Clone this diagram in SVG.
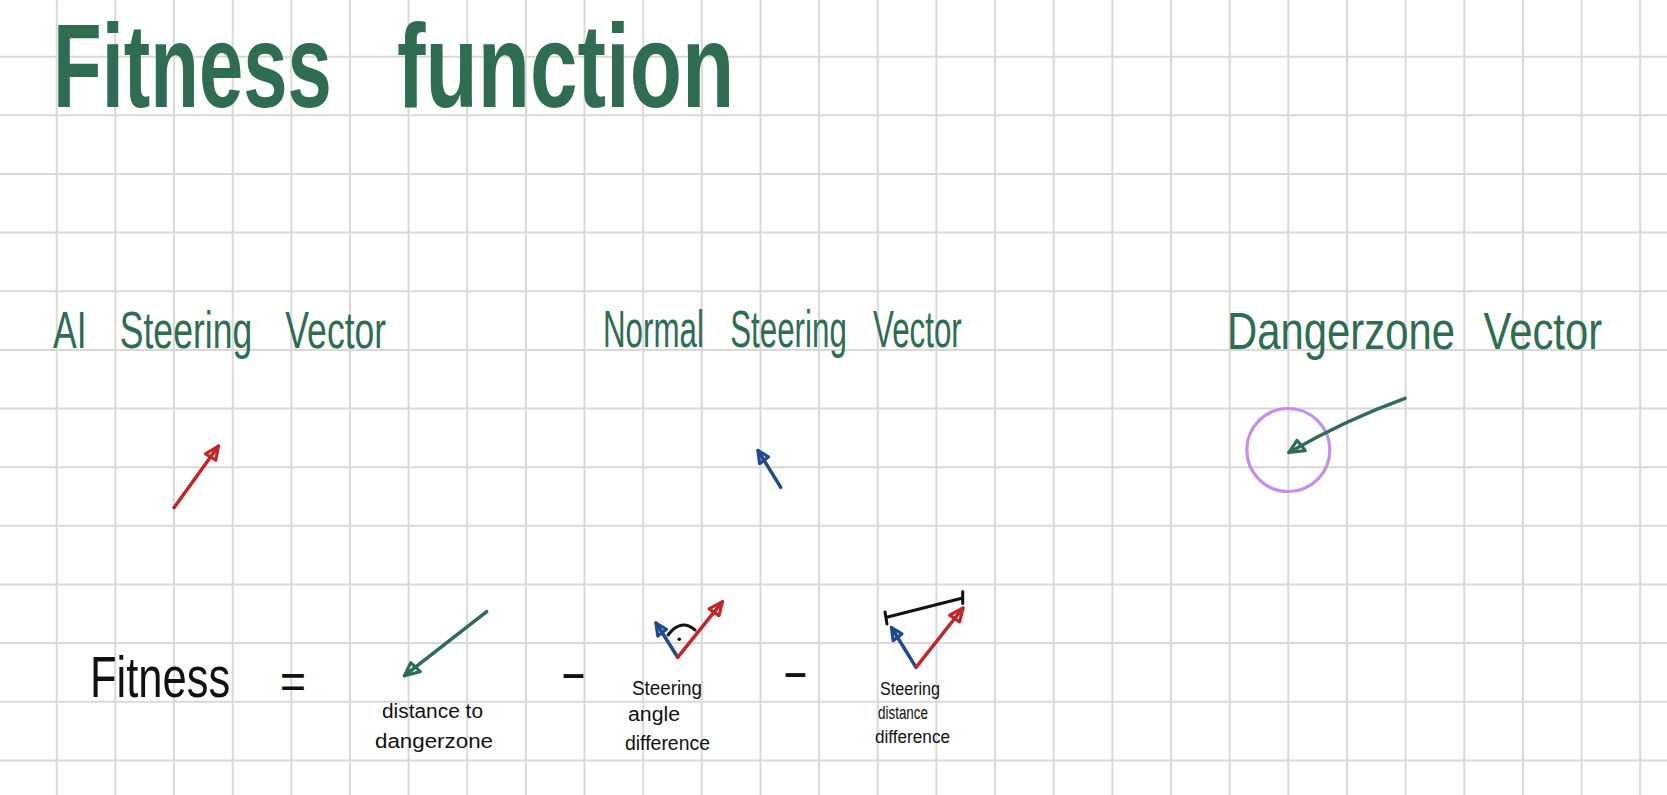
<svg xmlns="http://www.w3.org/2000/svg" width="1667" height="795" viewBox="0 0 1667 795">
<style>
.grid line{stroke:#d9d9d9;stroke-width:2}
.hand{font-family:"Liberation Sans","DejaVu Sans",sans-serif}
.title{font-size:118px;font-weight:bold;fill:#2e6d51}
.lbl{font-size:52px;fill:#2e6d51}
.blk{fill:#111}
.small{font-size:20px}
.vec{fill:none;stroke-width:3.5;stroke-linecap:round;stroke-linejoin:round}
.r{stroke:#c0272b}
.b{stroke:#1f4b8e}
.g{stroke:#2e6d51}
.k{stroke:#111;fill:none;stroke-width:3;stroke-linecap:round}
</style>
<defs>
<marker id="hr" markerUnits="userSpaceOnUse" viewBox="-18 -10 22 20" refX="0" refY="0" markerWidth="22" markerHeight="20" orient="auto">
<path d="M0,0 L-14,-6 L-13,6 Z" fill="none" stroke="#c0272b" stroke-width="3.2" stroke-linejoin="round"/>
</marker>
<marker id="hb" markerUnits="userSpaceOnUse" viewBox="-18 -10 22 20" refX="0" refY="0" markerWidth="22" markerHeight="20" orient="auto">
<path d="M0,0 L-12,-5.5 L-11,5.5 Z" fill="none" stroke="#1f4b8e" stroke-width="3.2" stroke-linejoin="round"/>
</marker>
<marker id="hg" markerUnits="userSpaceOnUse" viewBox="-18 -10 22 20" refX="0" refY="0" markerWidth="22" markerHeight="20" orient="auto">
<path d="M0,0 L-15,-6.5 L-13,6.5 Z" fill="none" stroke="#2e6d51" stroke-width="3.2" stroke-linejoin="round"/>
</marker>
</defs>
<rect width="1667" height="795" fill="#ffffff"/>
<g class="grid">
<line x1="56.7" y1="0" x2="56.7" y2="795"/><line x1="115.3" y1="0" x2="115.3" y2="795"/><line x1="174" y1="0" x2="174" y2="795"/><line x1="232.7" y1="0" x2="232.7" y2="795"/><line x1="291.3" y1="0" x2="291.3" y2="795"/><line x1="350" y1="0" x2="350" y2="795"/><line x1="408.6" y1="0" x2="408.6" y2="795"/><line x1="467.2" y1="0" x2="467.2" y2="795"/><line x1="525.9" y1="0" x2="525.9" y2="795"/><line x1="584.5" y1="0" x2="584.5" y2="795"/><line x1="643.2" y1="0" x2="643.2" y2="795"/><line x1="701.8" y1="0" x2="701.8" y2="795"/><line x1="760.5" y1="0" x2="760.5" y2="795"/><line x1="819.1" y1="0" x2="819.1" y2="795"/><line x1="877.8" y1="0" x2="877.8" y2="795"/><line x1="936.4" y1="0" x2="936.4" y2="795"/><line x1="995.1" y1="0" x2="995.1" y2="795"/><line x1="1053.7" y1="0" x2="1053.7" y2="795"/><line x1="1112.4" y1="0" x2="1112.4" y2="795"/><line x1="1171" y1="0" x2="1171" y2="795"/><line x1="1229.7" y1="0" x2="1229.7" y2="795"/><line x1="1288.3" y1="0" x2="1288.3" y2="795"/><line x1="1347" y1="0" x2="1347" y2="795"/><line x1="1405.6" y1="0" x2="1405.6" y2="795"/><line x1="1464.3" y1="0" x2="1464.3" y2="795"/><line x1="1522.9" y1="0" x2="1522.9" y2="795"/><line x1="1581.6" y1="0" x2="1581.6" y2="795"/><line x1="1640.2" y1="0" x2="1640.2" y2="795"/>
<line x1="0" y1="56.7" x2="1667" y2="56.7"/><line x1="0" y1="115.3" x2="1667" y2="115.3"/><line x1="0" y1="174" x2="1667" y2="174"/><line x1="0" y1="232.6" x2="1667" y2="232.6"/><line x1="0" y1="291.2" x2="1667" y2="291.2"/><line x1="0" y1="349.9" x2="1667" y2="349.9"/><line x1="0" y1="408.5" x2="1667" y2="408.5"/><line x1="0" y1="467.2" x2="1667" y2="467.2"/><line x1="0" y1="525.8" x2="1667" y2="525.8"/><line x1="0" y1="584.5" x2="1667" y2="584.5"/><line x1="0" y1="643.1" x2="1667" y2="643.1"/><line x1="0" y1="701.8" x2="1667" y2="701.8"/><line x1="0" y1="760.4" x2="1667" y2="760.4"/>
</g>
<g id="title">
<text class="hand title" transform="translate(53,107) scale(0.675,1)" x="0" y="0" textLength="413" lengthAdjust="spacingAndGlyphs">Fitness</text>
<text class="hand title" transform="translate(397,107) scale(0.725,1)" x="0" y="0" textLength="465" lengthAdjust="spacingAndGlyphs">function</text>
</g>
<g id="ai-steering-vector">
<text class="hand lbl" transform="translate(53,348) scale(0.68,1)" x="0" y="0" word-spacing="34" textLength="490" lengthAdjust="spacingAndGlyphs">AI Steering Vector</text>
</g>
<g id="normal-steering-vector">
<text class="hand lbl" transform="translate(603,347) scale(0.6,1)" x="0" y="0" word-spacing="29" textLength="598" lengthAdjust="spacingAndGlyphs">Normal Steering Vector</text>
</g>
<g id="dangerzone-vector">
<text class="hand lbl" transform="translate(1227,349) scale(0.8,1)" x="0" y="0" word-spacing="21" textLength="469" lengthAdjust="spacingAndGlyphs">Dangerzone Vector</text>
<circle cx="1288.3" cy="450" r="41.5" fill="none" stroke="#c48fe8" stroke-width="3.2"/>
</g>
<g id="formula">
<text class="hand blk" transform="translate(90,697) scale(0.75,1)" x="0" y="0" font-size="58" textLength="187" lengthAdjust="spacingAndGlyphs">Fitness</text>
<text class="hand blk" x="280" y="698" font-size="50" textLength="26" lengthAdjust="spacingAndGlyphs">=</text>
<text class="hand blk" x="560" y="689" font-size="50" textLength="27" lengthAdjust="spacingAndGlyphs">-</text>
<text class="hand blk" x="782" y="688" font-size="50" textLength="27" lengthAdjust="spacingAndGlyphs">-</text>
</g>
<g id="term-distance">
<text class="hand blk small" x="382" y="718" textLength="101" lengthAdjust="spacingAndGlyphs">distance to</text>
<text class="hand blk small" x="375" y="748" textLength="118" lengthAdjust="spacingAndGlyphs">dangerzone</text>
</g>
<g id="term-angle">
<path class="k" d="M668,635 Q681,618 695,630"/>
<circle cx="679.3" cy="639.3" r="1.8" fill="#111"/>
<text class="hand blk small" x="632" y="695" textLength="70" lengthAdjust="spacingAndGlyphs">Steering</text>
<text class="hand blk small" x="628" y="721" textLength="52" lengthAdjust="spacingAndGlyphs">angle</text>
<text class="hand blk small" x="625" y="750" textLength="85" lengthAdjust="spacingAndGlyphs">difference</text>
</g>
<g id="term-steering-distance">
<path class="k" d="M886.7,617.3 L961.7,598.3 M885,612 L887,624 M962.7,591.5 L962.7,603.5"/>
<text class="hand blk" font-size="18" x="880" y="695" textLength="60" lengthAdjust="spacingAndGlyphs">Steering</text>
<text class="hand blk" font-size="18" x="878" y="719" textLength="50" lengthAdjust="spacingAndGlyphs">distance</text>
<text class="hand blk" font-size="18" x="875" y="743" textLength="75" lengthAdjust="spacingAndGlyphs">difference</text>
</g>
<g id="connectors">
<path class="vec r" d="M174,507.7 L218.5,446" marker-end="url(#hr)"/>
<path class="vec b" d="M780.7,487.3 L758,450.5" marker-end="url(#hb)"/>
<path class="vec g" d="M1405,398.3 Q1345,420 1289,452.5" marker-end="url(#hg)"/>
<path class="vec g" d="M486.7,611.7 L404.5,675.7" marker-end="url(#hg)"/>
<path class="vec b" d="M677.7,657.3 L656,623" marker-end="url(#hb)"/>
<path class="vec r" d="M677.7,657.3 L722.5,601.7" marker-end="url(#hr)"/>
<path class="vec b" d="M916,667.3 L891.5,627.5" marker-end="url(#hb)"/>
<path class="vec r" d="M916,667.3 L963,608" marker-end="url(#hr)"/>
</g>
</svg>
